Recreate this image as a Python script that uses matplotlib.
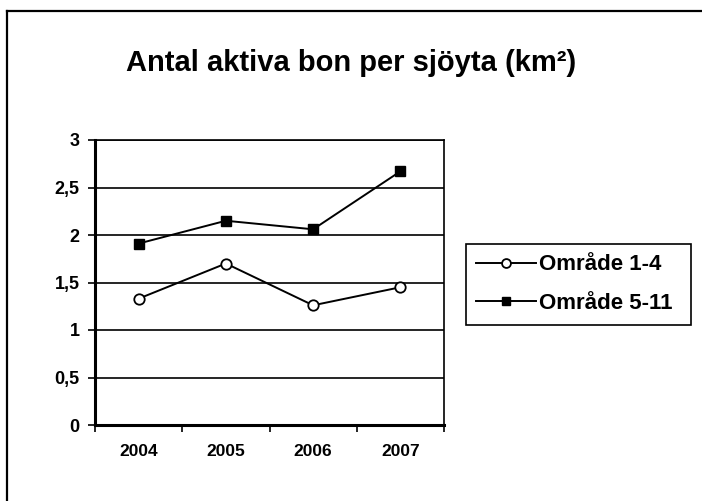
import matplotlib
matplotlib.use("Agg")
import matplotlib.pyplot as plt
from matplotlib.lines import Line2D
from matplotlib.ticker import FuncFormatter

# data
years = ["2004", "2005", "2006", "2007"]
omrade_1_4 = [1.33, 1.70, 1.26, 1.45]
omrade_5_11 = [1.91, 2.15, 2.06, 2.67]
y_ticks = [0, 0.5, 1, 1.5, 2, 2.5, 3]

plt.rcParams["font.family"] = ["Liberation Sans", "DejaVu Sans"]
plt.rcParams["font.weight"] = "bold"

fig = plt.figure(figsize=(7.02, 5.01), dpi=100)
W, H = 702, 501

# outer chart frame (only top and left edges fall inside the picture)
fig.add_artist(Line2D([6.5 / W, 6.5 / W], [0, 1 - 11 / H], color="black", lw=1.6,
                      transform=fig.transFigure))
fig.add_artist(Line2D([6.5 / W, 1], [1 - 11 / H, 1 - 11 / H], color="black", lw=1.6,
                      transform=fig.transFigure))

ax = fig.add_axes([95 / W, 1 - 425 / H, 349 / W, 285 / H])

x = list(range(len(years)))
ax.plot(x, omrade_1_4, color="black", lw=1.4, marker="o", markersize=7.5,
        markerfacecolor="white", markeredgecolor="black", markeredgewidth=1.3,
        label="Område 1-4", zorder=3)
ax.plot(x, omrade_5_11, color="black", lw=1.4, marker="s", markersize=7.5,
        markerfacecolor="black", markeredgecolor="black",
        label="Område 5-11", zorder=3)

ax.set_xlim(-0.5, len(years) - 0.5)
ax.set_ylim(0, 3)
ax.set_yticks(y_ticks)
ax.yaxis.set_major_formatter(FuncFormatter(lambda v, p: f"{v:g}".replace(".", ",")))
ax.grid(axis="y", color="black", lw=1.2)
ax.set_axisbelow(True)

# category labels in the middle, tick marks on the boundaries
ax.set_xticks([i - 0.5 for i in range(len(years) + 1)])
ax.set_xticklabels([])
ax.set_xticks(x, minor=True)
ax.set_xticklabels(years, minor=True)
ax.tick_params(axis="x", which="major", direction="out", length=5, width=1.2)
ax.tick_params(axis="x", which="minor", length=0, pad=14, labelsize=12.5)
ax.tick_params(axis="y", direction="out", length=5, width=1.2, pad=6, labelsize=13)

for side in ["left", "bottom"]:
    ax.spines[side].set_linewidth(2.2)
for side in ["top", "right"]:
    ax.spines[side].set_linewidth(1.2)

fig.text(351 / W, 1 - 63 / H, "Antal aktiva bon per sjöyta (km²)", ha="center",
         va="center", fontsize=21, fontweight="bold")

leg = ax.legend(loc="upper left", bbox_to_anchor=(466 / W, 1 - 244 / H, 225 / W, 0),
                bbox_transform=fig.transFigure, mode="expand", fancybox=False,
                framealpha=1, edgecolor="black", fontsize=16, handlelength=2.7,
                handletextpad=0.1, borderaxespad=0, borderpad=0.47, labelspacing=0.8,
                markerscale=0.85)
leg.get_frame().set_linewidth(1.2)

fig.savefig("out.png", dpi=100)
